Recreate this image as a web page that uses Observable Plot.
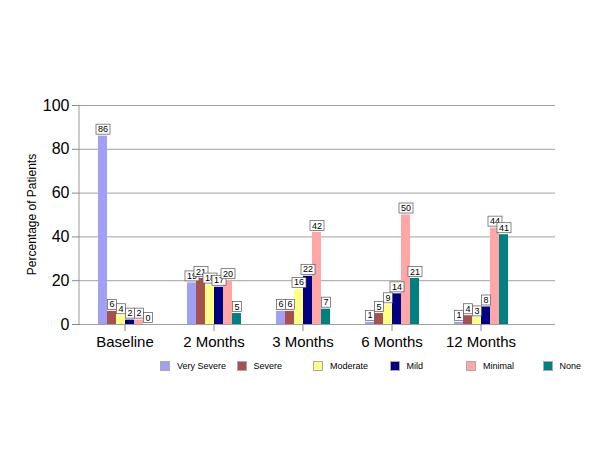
<!DOCTYPE html>
<html>
<head>
<meta charset="utf-8">
<script src="https://cdn.jsdelivr.net/npm/d3@7"></script>
<script src="https://cdn.jsdelivr.net/npm/@observablehq/plot@0.6"></script>
<style>
  html, body { margin: 0; padding: 0; background: #fff; }
  #wrap { position: relative; width: 600px; height: 450px; font-family: "Liberation Sans", Arial, sans-serif; }
  #legend { position: absolute; left: 160px; top: 361px; display: flex; font-size: 9px; color: #000; }
  .item { width: 76.5px; display: flex; align-items: center; white-space: nowrap; }
  .sw { width: 10px; height: 10px; margin-right: 7px; border: 1px solid #aaa; box-sizing: border-box; }
</style>
</head>
<body>
<div id="wrap"><div id="chart"></div><div id="legend"></div></div>
<script>
const groups = ["Baseline", "2 Months", "3 Months", "6 Months", "12 Months"];
const severities = ["Very Severe", "Severe", "Moderate", "Mild", "Minimal", "None"];
const colors = ["#a0a0f4", "#a65050", "#ffff88", "#000080", "#ffa6a6", "#008080"];
const baseline = [86, 6, 4, 2, 2, 0];
const months2 = [19, 21, 18, 17, 20, 5];
const months3 = [6, 6, 16, 22, 42, 7];
const months6 = [1, 5, 9, 14, 50, 21];
const months12 = [1, 4, 3, 8, 44, 41];
const yTicks = [0, 20, 40, 60, 80, 100];

const series = [baseline, months2, months3, months6, months12];
const data = [];
groups.forEach((g, i) => severities.forEach((s, j) => data.push({group: g, severity: s, value: series[i][j]})));

const chart = Plot.plot({
  width: 600,
  height: 360,
  marginLeft: 80,
  marginRight: 75,
  marginTop: 105,
  marginBottom: 36,
  style: {fontFamily: "Liberation Sans, Arial, sans-serif", background: "#fff"},
  fx: {domain: groups, padding: 0, label: null},
  x: {domain: severities, paddingInner: 0, paddingOuter: 1.8, align: 0.5, axis: null},
  y: {domain: [0, 100], label: null},
  color: {domain: severities, range: colors},
  marks: [
    Plot.gridY(yTicks, {stroke: "#a0a0a0", strokeOpacity: 1, strokeWidth: 1, className: "ygrid"}),
    Plot.axisY(yTicks, {tickSize: 8, tickPadding: 3, fontSize: 16, stroke: "#888", label: null}),
    Plot.axisFx({anchor: "bottom", tickSize: 7, tickPadding: 5, fontSize: 15, stroke: "#888", label: null}),
    Plot.barY(data, {fx: "group", x: "severity", y: "value", fill: "severity"}),
    Plot.text(data, {fx: "group", x: "severity", y: "value", text: d => String(d.value), fontSize: 9, fill: "#000", lineAnchor: "bottom", dy: -4, className: "vlabel"})
  ]
});
document.getElementById("chart").appendChild(chart);

const sy = chart.scale("y");
const svg = d3.select(chart);

// gridlines extend past the last category band (only the last facet's copy)
const gridGroups = svg.selectAll("g.ygrid").nodes();
if (gridGroups.length) {
  d3.select(gridGroups[gridGroups.length - 1]).selectAll("line").each(function() {
    const x2 = this.getAttribute("x2");
    if (x2 !== null) this.setAttribute("x2", +x2 + 30);
  });
}

// y axis line and title
svg.append("line")
  .attr("x1", 79).attr("x2", 79)
  .attr("y1", sy.apply(100)).attr("y2", sy.apply(0))
  .attr("stroke", "#999");
svg.append("text")
  .attr("transform", `translate(36,${(sy.apply(0) + sy.apply(100)) / 2}) rotate(-90)`)
  .attr("text-anchor", "middle")
  .attr("font-size", 12)
  .attr("fill", "#000")
  .text("Percentage of Patients");

// white boxes behind value labels
svg.selectAll("g.vlabel text").each(function() {
  const bb = this.getBBox();
  const t = this.getAttribute("transform");
  const r = d3.select(this.parentNode).insert("rect", () => this)
    .attr("x", bb.x - 2).attr("y", bb.y)
    .attr("width", bb.width + 4).attr("height", bb.height)
    .attr("fill", "#fff").attr("stroke", "#555").attr("stroke-width", 0.7);
  if (t) r.attr("transform", t);
});

const legend = document.getElementById("legend");
severities.forEach((s, i) => {
  const item = document.createElement("div");
  item.className = "item";
  const sw = document.createElement("div");
  sw.className = "sw";
  sw.style.background = colors[i];
  item.appendChild(sw);
  item.appendChild(document.createTextNode(s));
  legend.appendChild(item);
});
</script>
</body>
</html>
